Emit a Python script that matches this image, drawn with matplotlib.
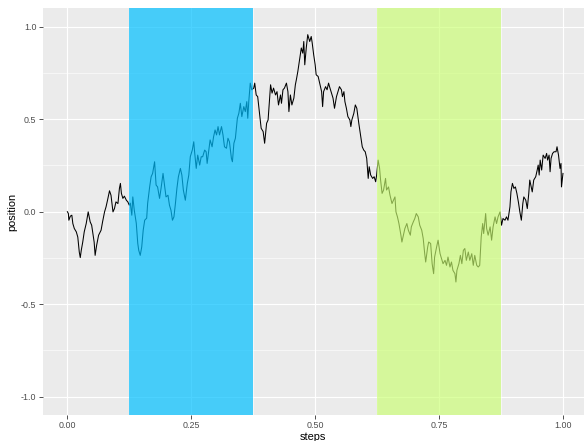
import matplotlib
matplotlib.use("Agg")
import matplotlib.pyplot as plt

# random-walk trace: step fraction and position
steps = [
    0.000, 0.002, 0.003, 0.006, 0.009, 0.011, 0.014, 0.018, 0.021, 0.024, 0.026, 0.028,
    0.031, 0.034, 0.038, 0.042, 0.046, 0.049, 0.051, 0.054, 0.056, 0.059, 0.063, 0.068,
    0.071, 0.075, 0.078, 0.081, 0.085, 0.088, 0.092, 0.095, 0.098, 0.102, 0.105, 0.107,
    0.109, 0.112, 0.115, 0.119, 0.122, 0.125,
    0.127, 0.130, 0.132, 0.135, 0.139, 0.142, 0.144, 0.147, 0.150, 0.153, 0.156, 0.160,
    0.162, 0.166, 0.169, 0.172, 0.176,
    0.179, 0.182, 0.186, 0.189, 0.193, 0.196, 0.199, 0.203, 0.206, 0.209, 0.212, 0.215,
    0.218, 0.221, 0.224, 0.228, 0.231, 0.234, 0.238, 0.242, 0.245, 0.248, 0.252, 0.255,
    0.257, 0.260, 0.263, 0.267, 0.270, 0.273, 0.277, 0.280, 0.282, 0.285, 0.288, 0.292,
    0.295, 0.298, 0.301, 0.304, 0.307, 0.311, 0.314, 0.317, 0.321, 0.324, 0.327, 0.331,
    0.333, 0.336, 0.339, 0.343, 0.346, 0.349, 0.352, 0.356, 0.359, 0.362, 0.364, 0.366,
    0.369, 0.372, 0.376,
    0.378, 0.381, 0.384, 0.388, 0.391, 0.395, 0.398, 0.402, 0.405, 0.408, 0.410, 0.413,
    0.416, 0.420, 0.423, 0.426, 0.430, 0.432, 0.435, 0.438, 0.442, 0.445, 0.447, 0.450,
    0.453, 0.457, 0.460, 0.462, 0.465, 0.469, 0.472, 0.475, 0.477, 0.479, 0.482, 0.485,
    0.489, 0.492, 0.494, 0.497, 0.500, 0.502, 0.506, 0.509, 0.513, 0.515, 0.517, 0.521,
    0.524, 0.527, 0.529, 0.533, 0.536, 0.539, 0.543, 0.546, 0.549, 0.553, 0.555, 0.558,
    0.560, 0.563, 0.566, 0.570, 0.572, 0.574, 0.578, 0.581, 0.584, 0.588, 0.591, 0.595,
    0.598, 0.601, 0.604, 0.607, 0.609, 0.612, 0.616, 0.619, 0.622, 0.624, 0.627, 0.630,
    0.632, 0.635, 0.638, 0.642, 0.644, 0.648, 0.651, 0.655, 0.658, 0.661, 0.663, 0.666,
    0.669, 0.673, 0.675, 0.678, 0.681, 0.685, 0.688, 0.692, 0.694, 0.698, 0.701, 0.704,
    0.708, 0.711, 0.715, 0.718, 0.721, 0.723, 0.727, 0.729, 0.733, 0.736, 0.739, 0.741,
    0.745, 0.748, 0.752,
    0.755, 0.758, 0.762, 0.765, 0.768, 0.772, 0.775, 0.778, 0.782, 0.784, 0.786, 0.790,
    0.793, 0.796, 0.799, 0.802, 0.805, 0.809, 0.812, 0.816, 0.819, 0.822, 0.826, 0.829,
    0.832, 0.835, 0.838, 0.840, 0.844, 0.846, 0.849, 0.853, 0.856, 0.859, 0.863, 0.866,
    0.869, 0.873, 0.876, 0.879, 0.883, 0.886, 0.889, 0.893, 0.895, 0.898, 0.901, 0.904,
    0.907, 0.910, 0.913, 0.916, 0.919, 0.921, 0.925, 0.928, 0.931, 0.933, 0.936, 0.938,
    0.941, 0.945, 0.948, 0.950, 0.952, 0.954, 0.957, 0.960, 0.964, 0.967, 0.969, 0.972,
    0.974, 0.976, 0.979, 0.982, 0.986, 0.988, 0.991, 0.994, 0.996, 0.997, 1.000,
]
position = [
    0.000, -0.010, -0.046, -0.024, -0.019, -0.064, -0.091, -0.109, -0.137, -0.218, -0.248, -0.209,
    -0.164, -0.109, -0.064, -0.001, -0.055, -0.073, -0.109, -0.164, -0.236, -0.182, -0.127, -0.100,
    -0.055, -0.001, 0.026, 0.062, 0.113, 0.089, -0.001, 0.017, 0.053, 0.044, 0.126, 0.153,
    0.099, 0.072, 0.084, 0.062, 0.053, 0.035,
    0.046, -0.019, 0.080, 0.008, -0.062, -0.171, -0.209, -0.236, -0.191, -0.100, -0.046, -0.035,
    0.046, 0.134, 0.189, 0.207, 0.270,
    0.144, 0.134, 0.072, 0.126, 0.207, 0.144, 0.080, 0.089, 0.035, 0.008, -0.046, -0.028,
    0.044, 0.126, 0.189, 0.234, 0.198, 0.117, 0.062, 0.153, 0.198, 0.297, 0.333, 0.378,
    0.315, 0.234, 0.306, 0.252, 0.297, 0.297, 0.333, 0.324, 0.261, 0.324, 0.388, 0.351,
    0.405, 0.442, 0.415, 0.460, 0.415, 0.460, 0.415, 0.351, 0.343, 0.397, 0.378, 0.288,
    0.270, 0.370, 0.397, 0.505, 0.532, 0.586, 0.514, 0.568, 0.541, 0.595, 0.505, 0.595,
    0.695, 0.659, 0.668,
    0.695, 0.631, 0.622, 0.523, 0.451, 0.433, 0.370, 0.478, 0.496, 0.614, 0.686, 0.641,
    0.668, 0.631, 0.649, 0.577, 0.631, 0.586, 0.659, 0.668, 0.695, 0.649, 0.541, 0.631,
    0.577, 0.614, 0.686, 0.713, 0.758, 0.830, 0.885, 0.857, 0.920, 0.794, 0.885, 0.957,
    0.920, 0.947, 0.912, 0.848, 0.794, 0.740, 0.731, 0.695, 0.649, 0.568, 0.649, 0.676,
    0.659, 0.695, 0.676, 0.641, 0.614, 0.559, 0.622, 0.649, 0.676, 0.659, 0.622, 0.649,
    0.595, 0.559, 0.514, 0.496, 0.460, 0.496, 0.532, 0.577, 0.559, 0.478, 0.424, 0.351,
    0.333, 0.324, 0.288, 0.180, 0.243, 0.198, 0.180, 0.189, 0.162, 0.198, 0.279, 0.234,
    0.171, 0.099, 0.117, 0.180, 0.117, 0.134, 0.089, 0.044, 0.062, 0.080, -0.001, -0.028,
    -0.064, -0.127, -0.164, -0.127, -0.091, -0.064, -0.100, -0.127, -0.082, -0.055, -0.037, -0.010,
    -0.028, -0.073, -0.100, -0.145, -0.227, -0.272, -0.191, -0.164, -0.172, -0.281, -0.335, -0.245,
    -0.191, -0.154, -0.227,
    -0.254, -0.281, -0.263, -0.290, -0.245, -0.299, -0.272, -0.317, -0.335, -0.380, -0.317, -0.281,
    -0.236, -0.281, -0.209, -0.199, -0.263, -0.218, -0.263, -0.227, -0.290, -0.236, -0.290, -0.299,
    -0.290, -0.137, -0.064, -0.118, -0.010, -0.091, -0.127, -0.082, -0.154, -0.082, -0.028, -0.064,
    -0.028, -0.001, -0.073, -0.037, -0.046, -0.028, -0.046, 0.026, 0.107, 0.153, 0.126, 0.134,
    0.099, 0.053, -0.001, -0.046, 0.044, 0.080, 0.062, 0.017, 0.099, 0.171, 0.134, 0.107,
    0.171, 0.189, 0.225, 0.252, 0.198, 0.279, 0.225, 0.306, 0.288, 0.315, 0.279, 0.306,
    0.216, 0.288, 0.315, 0.324, 0.324, 0.351, 0.306, 0.234, 0.261, 0.134, 0.207,
]

# shaded intervals along the step axis
band_starts = [0.125, 0.625]
band_ends = [0.375, 0.875]
band_colors = ["deepskyblue", "#CAFF70"]
band_alphas = [0.7, 0.65]

x_ticks = [0.00, 0.25, 0.50, 0.75, 1.00]
x_tick_labels = ["0.00", "0.25", "0.50", "0.75", "1.00"]
y_ticks = [-1.0, -0.5, 0.0, 0.5, 1.0]
y_tick_labels = ["-1.0", "-0.5", "0.0", "0.5", "1.0"]

plt.rcParams["font.family"] = ["Liberation Sans", "DejaVu Sans"]

W, H = 584, 441
fig = plt.figure(figsize=(W / 100, H / 100), dpi=100)
left, right, top, bottom = 42.6, 584, 8.2, 415.2
ax = fig.add_axes([left / W, 1 - bottom / H, (right - left) / W, (bottom - top) / H])

ax.set_facecolor("#EBEBEB")
for s in ax.spines.values():
    s.set_visible(False)

ax.set_xlim(-0.05, -0.05 + 1.1 * (right - left) / (587.75 - 42.6))
ax.set_ylim(-1.1, 1.1)

ax.set_xticks(x_ticks)
ax.set_xticklabels(x_tick_labels)
ax.set_yticks(y_ticks)
ax.set_yticklabels(y_tick_labels)
ax.set_xticks([0.125, 0.375, 0.625, 0.875], minor=True)
ax.set_yticks([-0.75, -0.25, 0.25, 0.75], minor=True)

ax.grid(which="major", color="white", linewidth=0.8)
ax.grid(which="minor", color="white", linewidth=0.4)
ax.set_axisbelow(True)
ax.tick_params(which="major", length=2.8, width=0.6, color="#333333",
               labelsize=6.4, labelcolor="#4D4D4D", pad=1.6)
ax.tick_params(which="minor", length=0)

ax.plot(steps, position, color="black", linewidth=0.75, zorder=2)

for x0, x1, c, a in zip(band_starts, band_ends, band_colors, band_alphas):
    ax.axvspan(x0, x1, color=c, alpha=a, linewidth=0, zorder=3)

ax.set_xlabel("steps", fontsize=7.9, labelpad=1.5)
ax.set_ylabel("position", fontsize=7.9, labelpad=3)

fig.savefig("out.png", dpi=100)
